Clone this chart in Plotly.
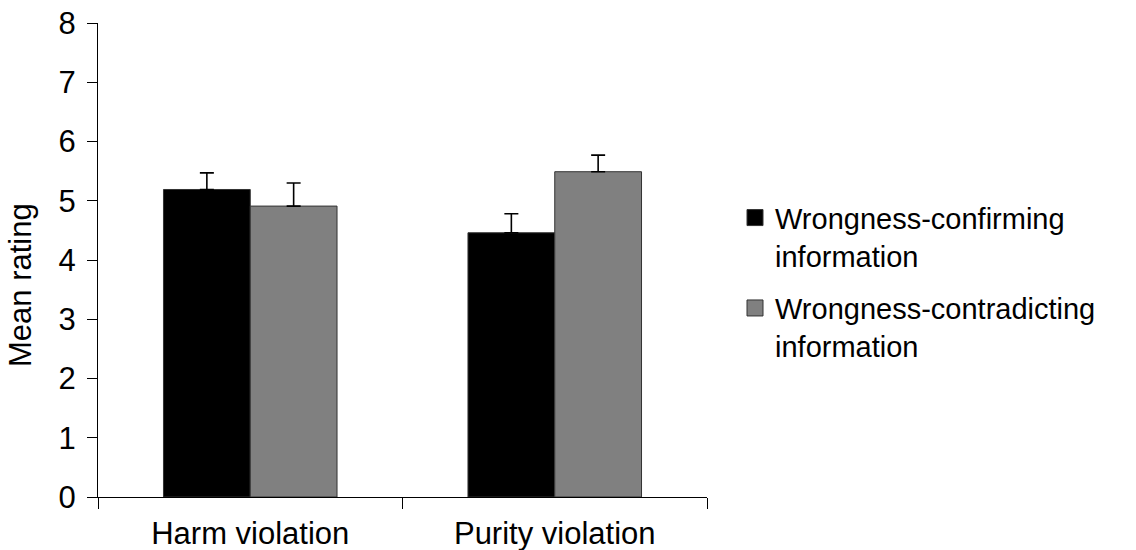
import plotly.graph_objects as go

categories = ["Harm violation", "Purity violation"]
series_names = ["Wrongness-confirming<br>information", "Wrongness-contradicting<br>information"]
confirming = [5.19, 4.46]
contradicting = [4.91, 5.49]
confirming_err = [0.28, 0.32]
contradicting_err = [0.39, 0.28]
colors = ["#000000", "#808080"]
y_ticks = [0, 1, 2, 3, 4, 5, 6, 7, 8]

FONT = "Liberation Sans, Arial, sans-serif"

fig = go.Figure()
for i, (name, vals, errs, col) in enumerate(zip(series_names, [confirming, contradicting],
                                                [confirming_err, contradicting_err], colors)):
    fig.add_trace(go.Bar(
        x=categories, y=vals, name=name, showlegend=False,
        marker=dict(color=col, line=dict(color="#333333", width=1)),
        error_y=dict(type="data", symmetric=False, array=errs,
                     arrayminus=[0] * len(errs), color="#000000",
                     thickness=1.6, width=7),
    ))
    # legend entry (square swatch)
    fig.add_trace(go.Scatter(
        x=[None], y=[None], mode="markers", name=name, legendgroup=f"g{i}",
        marker=dict(symbol="square", size=16, color=col,
                    line=dict(color="#333333", width=1)),
    ))

fig.update_layout(
    width=1136, height=550,
    margin=dict(l=98, r=429, t=23, b=53),
    paper_bgcolor="white", plot_bgcolor="white",
    barmode="group", bargap=0.43, bargroupgap=0,
    font=dict(family=FONT, size=30, color="#000000"),
    showlegend=True,
    legend=dict(x=1.046, y=0.643, xanchor="left", yanchor="top",
                font=dict(family=FONT, size=29, color="#000000"),
                valign="top", traceorder="grouped", tracegroupgap=12,
                bgcolor="rgba(0,0,0,0)"),
    xaxis=dict(showline=True, linecolor="#000000", linewidth=1,
               ticks="outside", tickson="boundaries", ticklen=11,
               tickcolor="#000000", showgrid=False, automargin=False,
               tickfont=dict(size=31), ticklabelstandoff=9),
    yaxis=dict(range=[0, 8], tickvals=y_ticks, showline=True,
               linecolor="#000000", linewidth=1, ticks="outside",
               ticklen=10, tickcolor="#000000", showgrid=False, automargin=False,
               zeroline=False, tickfont=dict(size=31), ticklabelstandoff=5),
    annotations=[dict(text="Mean rating", textangle=-90, xref="paper", yref="paper",
                      x=(20 - 98) / 609, y=(497 - 285) / 474,
                      xanchor="center", yanchor="middle", showarrow=False,
                      font=dict(family=FONT, size=31, color="#000000"))],
)

fig.write_html("out.html")
